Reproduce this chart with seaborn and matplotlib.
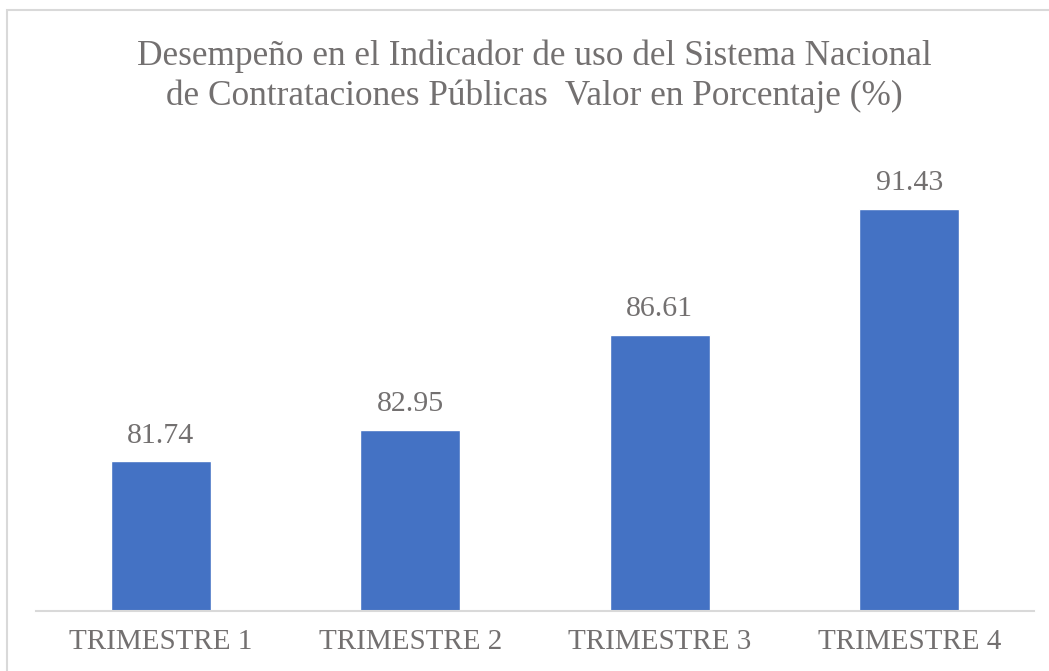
import matplotlib
matplotlib.use("Agg")
import matplotlib.pyplot as plt
import seaborn as sns
import pandas as pd
from matplotlib.patches import Rectangle

# --- datos ---
trimestres = ['TRIMESTRE 1', 'TRIMESTRE 2', 'TRIMESTRE 3', 'TRIMESTRE 4']
valores = [81.74, 82.95, 86.61, 91.43]

titulo = ('Desempeño en el Indicador de uso del Sistema Nacional\n'
          'de Contrataciones Públicas  Valor en Porcentaje (%)')

gris_texto = '#737070'
gris_linea = '#D9D9D9'
azul = '#4472C4'

sns.set_style('white')
plt.rcParams['font.family'] = ['Liberation Serif', 'DejaVu Serif']

df = pd.DataFrame({'trimestre': trimestres, 'valor': valores})

W, H = 1049, 671
fig = plt.figure(figsize=(W / 100, H / 100), dpi=100)
ax = fig.add_axes([36 / W, (H - 611) / H, (1034 - 36) / W, (611 - 142) / H])

sns.barplot(data=df, x='trimestre', y='valor', color=azul, width=0.4,
            saturation=1, ax=ax)
ax.set_ylim(76, 94)
ax.set_xlim(-0.5, len(trimestres) - 0.5)

# etiquetas de valor sobre cada barra
for i, v in enumerate(valores):
    ax.annotate(f'{v:.2f}', (i, v), xytext=(0, 9), textcoords='offset points',
                ha='center', va='bottom', fontsize=21.5, color=gris_texto)

ax.set_xlabel('')
ax.set_ylabel('')
ax.set_yticks([])
ax.tick_params(axis='x', length=0, pad=13, labelsize=21, labelcolor=gris_texto)
for s in ['top', 'right', 'left']:
    ax.spines[s].set_visible(False)
ax.spines['bottom'].set_color(gris_linea)
ax.spines['bottom'].set_linewidth(1.5)

fig.text(534 / W, 1 - 76 / H, titulo, ha='center', va='center', fontsize=25.4,
         color=gris_texto, linespacing=1.27)

# borde del área del gráfico
fig.patches.append(Rectangle((7 / W, -0.1), 1.2, 1 - 10 / H + 0.1,
                             transform=fig.transFigure, fill=False,
                             edgecolor=gris_linea, linewidth=1.5))

fig.savefig('out.png', dpi=100)
